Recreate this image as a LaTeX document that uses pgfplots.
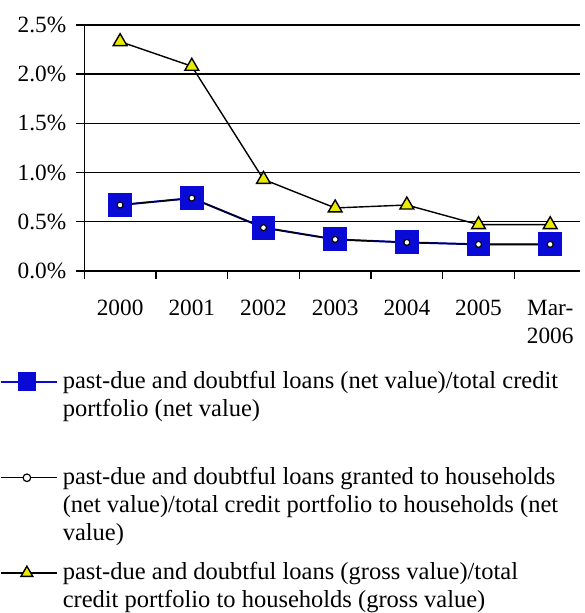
\documentclass[border=0pt]{standalone}
\usepackage{fontspec}
\setmainfont{Liberation Serif}
\usepackage{pgfplots}
\pgfplotsset{compat=1.18}
\definecolor{sqblue}{RGB}{10,10,215}
\definecolor{triyel}{RGB}{235,235,0}
\newcommand{\legtxt}[1]{\parbox[t]{262pt}{\fontsize{12.3}{14.25}\selectfont #1}}
\begin{document}
\begin{tikzpicture}
\begin{axis}[
  scale only axis,
  width=249pt, height=123.5pt,
  xmin=0.5, xmax=7.42,
  ymin=0, ymax=2.5,
  axis x line*=bottom,
  axis y line*=left,
  axis line style={-, line width=0.7pt, black},
  tick align=outside,
  major tick length=4pt,
  tick style={line width=0.7pt, black},
  xtick={0.5,1.5,2.5,3.5,4.5,5.5,6.5},
  xticklabels={2000,2001,2002,2003,2004,2005,{Mar-\\2006}},
  xticklabel style={xshift=18pt, yshift=-7pt, align=center,
    font=\fontsize{11.7}{14}\selectfont},
  ytick={0,0.5,1,1.5,2,2.5},
  yticklabels={0.0\%,0.5\%,1.0\%,1.5\%,2.0\%,2.5\%},
  yticklabel style={xshift=-1.5pt, font=\fontsize{11.7}{13}\selectfont},
  ymajorgrids,
  grid style={line width=0.7pt, black},
  clip=false,
  legend style={
    at={(axis description cs:0,0)}, anchor=north west,
    xshift=-42.5pt, yshift=-50pt,
    draw=none, fill=none, inner sep=0pt,
    row sep=8pt, column sep=2.5pt,
    nodes={inner sep=0pt, text depth=, text height=},
    cells={anchor=base west},
  },
  legend image code/.code={
    \draw[mark repeat=2,mark phase=2,#1]
      plot coordinates {(0pt,3.2pt) (13pt,3.2pt) (28pt,3.2pt)};
  },
]
% net value / total credit
\addplot[sqblue, line width=1pt, mark=square*,
  mark options={fill=sqblue, draw=sqblue, solid}, mark size=5.5pt,
  legend image post style={mark size=4.2pt}]
  coordinates {(1,0.67) (2,0.74) (3,0.44) (4,0.32) (5,0.29) (6,0.27) (7,0.27)};
\addlegendentry{\legtxt{past-due and doubtful loans (net value)/total credit\\portfolio (net value)\\[3pt]\mbox{}}}
% households net value
\addplot[black, line width=0.7pt, mark=*,
  mark options={fill=white, draw=black, line width=0.6pt}, mark size=1.5pt,
  legend image post style={mark size=1.9pt}]
  coordinates {(1,0.67) (2,0.74) (3,0.44) (4,0.32) (5,0.29) (6,0.27) (7,0.27)};
\addlegendentry{\legtxt{past-due and doubtful loans granted to households\\(net value)/total credit portfolio to households (net\\value)}}
% households gross value
\addplot[black, line width=0.7pt, mark=triangle*,
  mark options={fill=triyel, draw=black, line width=0.7pt}, mark size=4pt,
  legend image post style={mark size=3.4pt}]
  coordinates {(1,2.33) (2,2.08) (3,0.93) (4,0.64) (5,0.67) (6,0.47) (7,0.47)};
\addlegendentry{\legtxt{past-due and doubtful loans (gross value)/total\\credit portfolio to households (gross value)}}
\end{axis}
\path ([yshift=12.5pt]current axis.north west);
\end{tikzpicture}
\end{document}
